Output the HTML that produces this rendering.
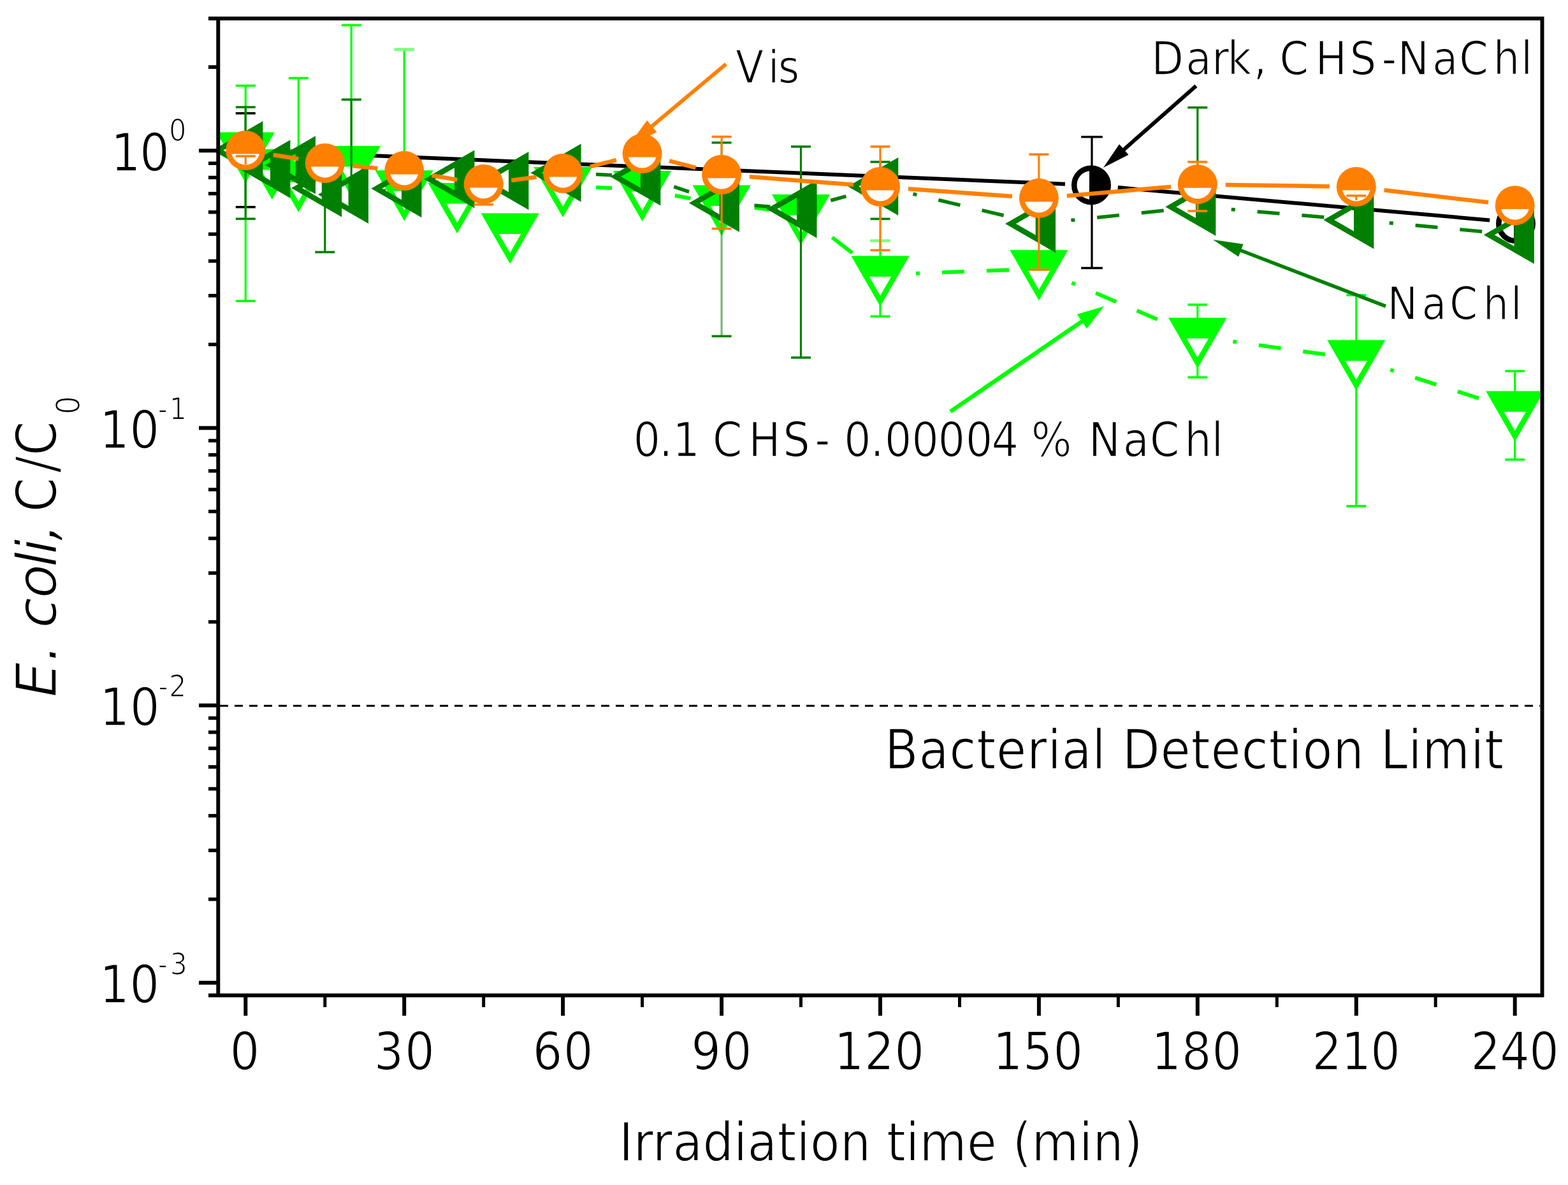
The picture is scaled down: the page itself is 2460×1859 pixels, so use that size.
<!DOCTYPE html>
<html><head><meta charset="utf-8"><title>E. coli inactivation</title>
<style>html,body{margin:0;padding:0;background:#fff;overflow:hidden;}svg{display:block;}</style>
</head><body>
<svg width="2460" height="1859" viewBox="0 0 2460 1859">
<rect width="2460" height="1859" fill="#fff"/>
<line x1="345" y1="1107.3" x2="2416" y2="1107.3" stroke="#000" stroke-width="3" stroke-dasharray="13 10"/>
<defs><clipPath id="pc"><rect x="345" y="32" width="2071" height="1526"/></clipPath></defs>
<g clip-path="url(#pc)">
<g stroke="#000000" opacity="1"><line x1="385.3" y1="177.7" x2="385.3" y2="324.8" stroke-width="3.2"/><line x1="369.8" y1="177.7" x2="400.8" y2="177.7" stroke-width="3.6"/><line x1="369.8" y1="324.8" x2="400.8" y2="324.8" stroke-width="3.6"/></g>
<g stroke="#000000" opacity="1"><line x1="1713.0" y1="214.7" x2="1713.0" y2="420.5" stroke-width="3.2"/><line x1="1696.2" y1="214.7" x2="1729.8" y2="214.7" stroke-width="3.6"/><line x1="1696.2" y1="420.5" x2="1729.8" y2="420.5" stroke-width="3.6"/></g>
<line x1="427.3" y1="237.7" x2="1671.0" y2="288.7" stroke="#000" stroke-width="6"/>
<line x1="1753.8" y1="294.1" x2="2337.2" y2="345.4" stroke="#000" stroke-width="6"/>
<circle cx="1712.0" cy="290.4" r="26.75" fill="#fff" stroke="#000000" stroke-width="8.5"/><path d="M1709.0,268.1A23.0,23.0 0 1 1 1709.0,312.7Z" fill="#000000"/>
<circle cx="2378.0" cy="351.0" r="26.75" fill="#fff" stroke="#000000" stroke-width="8.5"/><path d="M2375.0,328.7A23.0,23.0 0 1 1 2375.0,373.3Z" fill="#000000"/>
<g stroke="#00ff00" opacity="1"><line x1="385.3" y1="134.4" x2="385.3" y2="472.2" stroke-width="3.2"/><line x1="369.8" y1="134.4" x2="400.8" y2="134.4" stroke-width="3.6"/><line x1="369.8" y1="472.2" x2="400.8" y2="472.2" stroke-width="3.6"/></g>
<g stroke="#00ff00" opacity="1"><line x1="468.3" y1="122.5" x2="468.3" y2="300.0" stroke-width="3.2"/><line x1="452.8" y1="122.5" x2="483.8" y2="122.5" stroke-width="3.6"/></g>
<g stroke="#00ff00" opacity="1"><line x1="551.2" y1="39.5" x2="551.2" y2="300.0" stroke-width="3.2"/><line x1="535.8" y1="39.5" x2="566.8" y2="39.5" stroke-width="3.6"/></g>
<g stroke="#00ff00" opacity="1"><line x1="634.2" y1="77.7" x2="634.2" y2="290.0" stroke-width="3.2"/><line x1="618.7" y1="77.7" x2="649.7" y2="77.7" stroke-width="3.6"/></g>
<g stroke="#80ff80" opacity="1"><line x1="634.2" y1="77.7" x2="634.2" y2="77.7" stroke-width="3.2"/><line x1="618.7" y1="77.7" x2="649.7" y2="77.7" stroke-width="5"/></g>
<g stroke="#00ff00" opacity="1"><line x1="1381.0" y1="377.6" x2="1381.0" y2="496.3" stroke-width="3.2"/><line x1="1365.5" y1="377.6" x2="1396.5" y2="377.6" stroke-width="3.6"/><line x1="1365.5" y1="496.3" x2="1396.5" y2="496.3" stroke-width="3.6"/></g>
<g stroke="#80ff80" opacity="1"><line x1="1381.0" y1="377.6" x2="1381.0" y2="377.6" stroke-width="3.2"/><line x1="1365.5" y1="377.6" x2="1396.5" y2="377.6" stroke-width="4"/></g>
<g stroke="#00ff00" opacity="1"><line x1="1878.8" y1="478.0" x2="1878.8" y2="592.0" stroke-width="3.2"/><line x1="1863.3" y1="478.0" x2="1894.3" y2="478.0" stroke-width="3.6"/><line x1="1863.3" y1="592.0" x2="1894.3" y2="592.0" stroke-width="3.6"/></g>
<g stroke="#00ff00" opacity="1"><line x1="2127.8" y1="463.0" x2="2127.8" y2="794.0" stroke-width="3.2"/><line x1="2112.3" y1="463.0" x2="2143.3" y2="463.0" stroke-width="3.6"/><line x1="2112.3" y1="794.0" x2="2143.3" y2="794.0" stroke-width="3.6"/></g>
<g stroke="#00ff00" opacity="1"><line x1="2376.7" y1="582.2" x2="2376.7" y2="721.0" stroke-width="3.2"/><line x1="2361.2" y1="582.2" x2="2392.2" y2="582.2" stroke-width="3.6"/><line x1="2361.2" y1="721.0" x2="2392.2" y2="721.0" stroke-width="3.6"/></g>
<line x1="935.1" y1="293.9" x2="967.7" y2="295.5" stroke="#00ff00" stroke-width="6" stroke-dasharray="25 200"/>
<line x1="1058.8" y1="306.8" x2="1092.7" y2="312.9" stroke="#00ff00" stroke-width="6" stroke-dasharray="25 200"/>
<line x1="1183.7" y1="326.0" x2="1216.8" y2="329.8" stroke="#00ff00" stroke-width="6" stroke-dasharray="25 200"/>
<line x1="1305.5" y1="372.4" x2="1349.4" y2="406.5" stroke="#00ff00" stroke-width="6" stroke-dasharray="40 300"/>
<line x1="1437.0" y1="428.9" x2="1590.0" y2="423.2" stroke="#00ff00" stroke-width="6" stroke-dasharray="6 35 35 35 35 35 35 35"/>
<line x1="1681.4" y1="443.7" x2="1842.1" y2="512.3" stroke="#00ff00" stroke-width="6" stroke-dasharray="6 35 35 35 35 35 35 35"/>
<line x1="1934.3" y1="535.8" x2="2088.2" y2="557.4" stroke="#00ff00" stroke-width="6" stroke-dasharray="6 35 35 35 35 35 35 35"/>
<line x1="2181.1" y1="580.1" x2="2338.6" y2="630.8" stroke="#00ff00" stroke-width="6" stroke-dasharray="6 35 35 35 35 35 35 35"/>
<path d="M339.7,207.6L430.9,207.6L385.3,286.7Z" fill="#00ff00"/><path d="M368.1,240.0L402.5,240.0L385.3,269.7Z" fill="#fff"/>
<path d="M381.2,234.0L472.4,234.0L426.8,313.1Z" fill="#00ff00"/><path d="M409.6,266.4L444.0,266.4L426.8,296.1Z" fill="#fff"/>
<path d="M422.7,253.6L513.9,253.6L468.3,332.7Z" fill="#00ff00"/><path d="M451.1,286.0L485.4,286.0L468.3,315.7Z" fill="#fff"/>
<path d="M505.6,229.1L596.9,229.1L551.2,308.2Z" fill="#00ff00"/><path d="M534.1,261.5L568.4,261.5L551.2,291.2Z" fill="#fff"/>
<path d="M588.6,267.3L679.8,267.3L634.2,346.4Z" fill="#00ff00"/><path d="M617.1,299.7L651.4,299.7L634.2,329.4Z" fill="#fff"/>
<path d="M671.6,287.1L762.8,287.1L717.2,366.2Z" fill="#00ff00"/><path d="M700.0,319.5L734.4,319.5L717.2,349.2Z" fill="#fff"/>
<path d="M754.6,334.6L845.8,334.6L800.2,413.7Z" fill="#00ff00"/><path d="M783.0,367.0L817.3,367.0L800.2,396.7Z" fill="#fff"/>
<path d="M837.5,261.9L928.8,261.9L883.1,341.0Z" fill="#00ff00"/><path d="M866.0,294.3L900.3,294.3L883.1,324.0Z" fill="#fff"/>
<path d="M962.0,268.1L1053.2,268.1L1007.6,347.2Z" fill="#00ff00"/><path d="M990.4,300.5L1024.8,300.5L1007.6,330.2Z" fill="#fff"/>
<path d="M1086.5,290.6L1177.7,290.6L1132.1,369.7Z" fill="#00ff00"/><path d="M1114.9,323.0L1149.2,323.0L1132.1,352.7Z" fill="#fff"/>
<path d="M1210.9,305.0L1302.1,305.0L1256.5,384.1Z" fill="#00ff00"/><path d="M1239.4,337.4L1273.7,337.4L1256.5,367.1Z" fill="#fff"/>
<path d="M1335.4,401.6L1426.6,401.6L1381.0,480.7Z" fill="#00ff00"/><path d="M1363.8,434.0L1398.2,434.0L1381.0,463.7Z" fill="#fff"/>
<path d="M1584.3,392.3L1675.5,392.3L1629.9,471.4Z" fill="#00ff00"/><path d="M1612.8,424.7L1647.1,424.7L1629.9,454.4Z" fill="#fff"/>
<path d="M1833.2,498.6L1924.4,498.6L1878.8,577.7Z" fill="#00ff00"/><path d="M1861.7,531.0L1896.0,531.0L1878.8,560.7Z" fill="#fff"/>
<path d="M2082.2,533.6L2173.4,533.6L2127.8,612.7Z" fill="#00ff00"/><path d="M2110.6,566.0L2144.9,566.0L2127.8,595.7Z" fill="#fff"/>
<path d="M2331.1,613.6L2422.3,613.6L2376.7,692.7Z" fill="#00ff00"/><path d="M2359.5,646.0L2393.9,646.0L2376.7,675.7Z" fill="#fff"/>
<g stroke="#008000" opacity="1"><line x1="385.3" y1="168.1" x2="385.3" y2="343.3" stroke-width="3.2"/><line x1="369.8" y1="168.1" x2="400.8" y2="168.1" stroke-width="3.6"/><line x1="369.8" y1="343.3" x2="400.8" y2="343.3" stroke-width="3.6"/></g>
<g stroke="#008000" opacity="1"><line x1="509.8" y1="300.0" x2="509.8" y2="395.5" stroke-width="3.2"/><line x1="494.3" y1="395.5" x2="525.3" y2="395.5" stroke-width="3.6"/></g>
<g stroke="#008000" opacity="1"><line x1="551.2" y1="156.2" x2="551.2" y2="300.0" stroke-width="3.2"/><line x1="535.8" y1="156.2" x2="566.8" y2="156.2" stroke-width="3.6"/></g>
<g stroke="#008000" opacity="0.55"><line x1="1132.1" y1="223.8" x2="1132.1" y2="527.4" stroke-width="3.2"/></g>
<g stroke="#008000" opacity="1"><line x1="1132.1" y1="223.8" x2="1132.1" y2="527.4" stroke-width="0"/><line x1="1116.6" y1="223.8" x2="1147.6" y2="223.8" stroke-width="3.6"/><line x1="1116.6" y1="527.4" x2="1147.6" y2="527.4" stroke-width="3.6"/></g>
<g stroke="#008000" opacity="1"><line x1="1256.5" y1="230.0" x2="1256.5" y2="561.0" stroke-width="3.2"/><line x1="1241.0" y1="230.0" x2="1272.0" y2="230.0" stroke-width="3.6"/><line x1="1241.0" y1="561.0" x2="1272.0" y2="561.0" stroke-width="3.6"/></g>
<g stroke="#008000" opacity="1"><line x1="1381.0" y1="254.0" x2="1381.0" y2="343.4" stroke-width="3.2"/><line x1="1365.5" y1="254.0" x2="1396.5" y2="254.0" stroke-width="3.6"/><line x1="1365.5" y1="343.4" x2="1396.5" y2="343.4" stroke-width="3.6"/></g>
<g stroke="#008000" opacity="1"><line x1="1878.8" y1="168.7" x2="1878.8" y2="300.0" stroke-width="3.2"/><line x1="1863.3" y1="168.7" x2="1894.3" y2="168.7" stroke-width="3.6"/></g>
<line x1="601.3" y1="299.5" x2="605.2" y2="299.1" stroke="#008000" stroke-width="5.5" stroke-dasharray="25 200"/>
<line x1="684.2" y1="287.0" x2="688.5" y2="286.2" stroke="#008000" stroke-width="5.5" stroke-dasharray="25 200"/>
<line x1="768.0" y1="282.5" x2="773.0" y2="282.7" stroke="#008000" stroke-width="5.5" stroke-dasharray="25 200"/>
<line x1="852.4" y1="276.1" x2="855.5" y2="275.7" stroke="#008000" stroke-width="5.5" stroke-dasharray="25 200"/>
<line x1="935.1" y1="273.5" x2="979.9" y2="275.6" stroke="#008000" stroke-width="5.5" stroke-dasharray="25 200"/>
<line x1="1057.3" y1="292.9" x2="1105.2" y2="309.0" stroke="#008000" stroke-width="5.5" stroke-dasharray="25 200"/>
<line x1="1183.5" y1="322.3" x2="1225.2" y2="325.5" stroke="#008000" stroke-width="5.5" stroke-dasharray="25 200"/>
<line x1="1303.3" y1="314.5" x2="1354.0" y2="300.5" stroke="#008000" stroke-width="5.5" stroke-dasharray="25 200"/>
<line x1="1432.5" y1="304.3" x2="1600.5" y2="344.1" stroke="#008000" stroke-width="5.5" stroke-dasharray="6 35 35 35 35 35 35 35"/>
<line x1="1680.4" y1="345.6" x2="1851.2" y2="327.6" stroke="#008000" stroke-width="5.5" stroke-dasharray="6 35 35 35 35 35 35 35"/>
<line x1="1931.8" y1="328.6" x2="2099.1" y2="342.5" stroke="#008000" stroke-width="5.5" stroke-dasharray="6 35 35 35 35 35 35 35"/>
<line x1="2179.8" y1="349.7" x2="2350.6" y2="365.7" stroke="#008000" stroke-width="5.5" stroke-dasharray="6 35 35 35 35 35 35 35"/>
<path fill-rule="evenodd" d="M333.3,235.7L412.4,190.1L412.4,281.3ZM350.3,235.7L403.9,266.6L403.9,204.8Z" fill="#008000"/><path d="M381.0,216.7L405.0,203.0L405.0,268.4L381.0,254.7Z" fill="#008000"/>
<path fill-rule="evenodd" d="M376.3,265.2L455.4,219.6L455.4,310.8ZM393.3,265.2L446.9,296.1L446.9,234.3Z" fill="#008000"/><path d="M424.0,246.2L448.0,232.5L448.0,297.9L424.0,284.2Z" fill="#008000"/>
<path fill-rule="evenodd" d="M415.9,258.9L495.0,213.3L495.0,304.5ZM432.9,258.9L486.5,289.8L486.5,228.0Z" fill="#008000"/><path d="M463.6,239.9L487.6,226.2L487.6,291.6L463.6,277.9Z" fill="#008000"/>
<path fill-rule="evenodd" d="M457.1,295.0L536.2,249.4L536.2,340.6ZM474.1,295.0L527.7,325.9L527.7,264.1Z" fill="#008000"/><path d="M504.8,276.0L528.8,262.3L528.8,327.7L504.8,314.0Z" fill="#008000"/>
<path fill-rule="evenodd" d="M498.9,305.2L578.0,259.6L578.0,350.8ZM515.9,305.2L569.5,336.1L569.5,274.3Z" fill="#008000"/><path d="M546.6,286.2L570.6,272.5L570.6,337.9L546.6,324.2Z" fill="#008000"/>
<path fill-rule="evenodd" d="M582.3,295.7L661.4,250.1L661.4,341.3ZM599.3,295.7L652.9,326.6L652.9,264.8Z" fill="#008000"/><path d="M630.0,276.7L654.0,263.0L654.0,328.4L630.0,314.7Z" fill="#008000"/>
<path fill-rule="evenodd" d="M665.3,281.0L744.4,235.4L744.4,326.6ZM682.3,281.0L735.9,311.9L735.9,250.1Z" fill="#008000"/><path d="M713.0,262.0L737.0,248.3L737.0,313.7L713.0,300.0Z" fill="#008000"/>
<path fill-rule="evenodd" d="M750.3,283.6L829.4,238.0L829.4,329.2ZM767.3,283.6L820.9,314.5L820.9,252.7Z" fill="#008000"/><path d="M798.0,264.6L822.0,250.9L822.0,316.3L798.0,302.6Z" fill="#008000"/>
<path fill-rule="evenodd" d="M832.5,271.2L911.6,225.6L911.6,316.8ZM849.5,271.2L903.1,302.1L903.1,240.3Z" fill="#008000"/><path d="M880.2,252.2L904.2,238.5L904.2,303.9L880.2,290.2Z" fill="#008000"/>
<path fill-rule="evenodd" d="M957.2,277.0L1036.3,231.4L1036.3,322.6ZM974.2,277.0L1027.8,307.9L1027.8,246.1Z" fill="#008000"/><path d="M1004.9,258.0L1028.9,244.3L1028.9,309.7L1004.9,296.0Z" fill="#008000"/>
<path fill-rule="evenodd" d="M1080.9,318.5L1160.0,272.9L1160.0,364.1ZM1097.9,318.5L1151.5,349.4L1151.5,287.6Z" fill="#008000"/><path d="M1128.6,299.5L1152.6,285.8L1152.6,351.2L1128.6,337.5Z" fill="#008000"/>
<path fill-rule="evenodd" d="M1202.4,327.8L1281.5,282.2L1281.5,373.4ZM1219.4,327.8L1273.0,358.7L1273.0,296.9Z" fill="#008000"/><path d="M1250.1,308.8L1274.1,295.1L1274.1,360.5L1250.1,346.8Z" fill="#008000"/>
<path fill-rule="evenodd" d="M1330.2,292.5L1409.3,246.9L1409.3,338.1ZM1347.2,292.5L1400.8,323.4L1400.8,261.6Z" fill="#008000"/><path d="M1377.9,273.5L1401.9,259.8L1401.9,325.2L1377.9,311.5Z" fill="#008000"/>
<path fill-rule="evenodd" d="M1577.0,351.0L1656.1,305.4L1656.1,396.6ZM1594.0,351.0L1647.6,381.9L1647.6,320.1Z" fill="#008000"/><path d="M1624.7,332.0L1648.7,318.3L1648.7,383.7L1624.7,370.0Z" fill="#008000"/>
<path fill-rule="evenodd" d="M1828.3,324.4L1907.4,278.8L1907.4,370.0ZM1845.3,324.4L1898.9,355.3L1898.9,293.5Z" fill="#008000"/><path d="M1876.0,305.4L1900.0,291.7L1900.0,357.1L1876.0,343.4Z" fill="#008000"/>
<path fill-rule="evenodd" d="M2076.3,345.0L2155.4,299.4L2155.4,390.6ZM2093.3,345.0L2146.9,375.9L2146.9,314.1Z" fill="#008000"/><path d="M2124.0,326.0L2148.0,312.3L2148.0,377.7L2124.0,364.0Z" fill="#008000"/>
<path fill-rule="evenodd" d="M2327.8,368.5L2406.9,322.9L2406.9,414.1ZM2344.8,368.5L2398.4,399.4L2398.4,337.6Z" fill="#008000"/><path d="M2375.5,349.5L2399.5,335.8L2399.5,401.2L2375.5,387.5Z" fill="#008000"/>
<g stroke="#ff8000" opacity="1"><line x1="385.3" y1="245.0" x2="385.3" y2="258.0" stroke-width="3.2"/><line x1="369.8" y1="245.0" x2="400.8" y2="245.0" stroke-width="3.6"/></g>
<g stroke="#ff8000" opacity="1"><line x1="758.7" y1="290.0" x2="758.7" y2="320.9" stroke-width="3.2"/><line x1="743.2" y1="320.9" x2="774.2" y2="320.9" stroke-width="3.6"/></g>
<g stroke="#ff8000" opacity="1"><line x1="1132.1" y1="214.5" x2="1132.1" y2="358.8" stroke-width="3.2"/><line x1="1116.6" y1="214.5" x2="1147.6" y2="214.5" stroke-width="3.6"/><line x1="1116.6" y1="358.8" x2="1147.6" y2="358.8" stroke-width="3.6"/></g>
<g stroke="#ff8000" opacity="1"><line x1="1381.0" y1="230.0" x2="1381.0" y2="392.5" stroke-width="3.2"/><line x1="1365.5" y1="230.0" x2="1396.5" y2="230.0" stroke-width="3.6"/><line x1="1365.5" y1="392.5" x2="1396.5" y2="392.5" stroke-width="3.6"/></g>
<g stroke="#ff8000" opacity="1"><line x1="1629.9" y1="242.2" x2="1629.9" y2="423.0" stroke-width="3.2"/><line x1="1614.4" y1="242.2" x2="1645.4" y2="242.2" stroke-width="3.6"/><line x1="1614.4" y1="423.0" x2="1645.4" y2="423.0" stroke-width="3.6"/></g>
<g stroke="#ff8000" opacity="1"><line x1="1878.8" y1="254.0" x2="1878.8" y2="331.0" stroke-width="3.2"/><line x1="1863.3" y1="254.0" x2="1894.3" y2="254.0" stroke-width="3.6"/><line x1="1863.3" y1="331.0" x2="1894.3" y2="331.0" stroke-width="3.6"/></g>
<g stroke="#ff8000" opacity="1"><line x1="2127.8" y1="307.0" x2="2127.8" y2="318.0" stroke-width="3.2"/><line x1="2112.3" y1="307.0" x2="2143.3" y2="307.0" stroke-width="3.6"/></g>
<line x1="428.7" y1="243.0" x2="468.3" y2="249.3" stroke="#ff8000" stroke-width="6.5"/>
<line x1="553.6" y1="260.2" x2="592.4" y2="264.0" stroke="#ff8000" stroke-width="6.5"/>
<line x1="677.6" y1="275.3" x2="717.3" y2="282.0" stroke="#ff8000" stroke-width="6.5"/>
<line x1="802.3" y1="283.0" x2="841.5" y2="277.7" stroke="#ff8000" stroke-width="6.5"/>
<line x1="925.8" y1="261.4" x2="966.9" y2="251.2" stroke="#ff8000" stroke-width="6.5"/>
<line x1="1050.1" y1="252.3" x2="1091.5" y2="263.2" stroke="#ff8000" stroke-width="6.5"/>
<line x1="1175.9" y1="277.3" x2="1339.1" y2="289.8" stroke="#ff8000" stroke-width="6.5"/>
<line x1="1424.9" y1="296.2" x2="1588.0" y2="308.0" stroke="#ff8000" stroke-width="6.5"/>
<line x1="1673.8" y1="307.2" x2="1837.0" y2="292.9" stroke="#ff8000" stroke-width="6.5"/>
<line x1="1922.8" y1="289.9" x2="2085.8" y2="292.4" stroke="#ff8000" stroke-width="6.5"/>
<line x1="2171.5" y1="298.2" x2="2335.0" y2="317.5" stroke="#ff8000" stroke-width="6.5"/>
<circle cx="385.3" cy="236.0" r="31" fill="#ff8000"/><path d="M363.5,241.5L407.1,241.5A22.5,22.5 0 0 1 363.5,241.5Z" fill="#fff"/>
<circle cx="509.8" cy="256.0" r="31" fill="#ff8000"/><path d="M487.9,261.5L531.6,261.5A22.5,22.5 0 0 1 487.9,261.5Z" fill="#fff"/>
<circle cx="634.2" cy="268.0" r="31" fill="#ff8000"/><path d="M612.4,273.5L656.0,273.5A22.5,22.5 0 0 1 612.4,273.5Z" fill="#fff"/>
<circle cx="758.7" cy="289.0" r="31" fill="#ff8000"/><path d="M736.9,294.5L780.5,294.5A22.5,22.5 0 0 1 736.9,294.5Z" fill="#fff"/>
<circle cx="883.1" cy="272.0" r="31" fill="#ff8000"/><path d="M861.3,277.5L905.0,277.5A22.5,22.5 0 0 1 861.3,277.5Z" fill="#fff"/>
<circle cx="1007.6" cy="241.0" r="31" fill="#ff8000"/><path d="M985.8,246.5L1029.4,246.5A22.5,22.5 0 0 1 985.8,246.5Z" fill="#fff"/>
<circle cx="1132.1" cy="274.0" r="31" fill="#ff8000"/><path d="M1110.3,279.5L1153.9,279.5A22.5,22.5 0 0 1 1110.3,279.5Z" fill="#fff"/>
<circle cx="1381.0" cy="293.0" r="31" fill="#ff8000"/><path d="M1359.2,298.5L1402.8,298.5A22.5,22.5 0 0 1 1359.2,298.5Z" fill="#fff"/>
<circle cx="1629.9" cy="311.0" r="31" fill="#ff8000"/><path d="M1608.1,316.5L1651.7,316.5A22.5,22.5 0 0 1 1608.1,316.5Z" fill="#fff"/>
<circle cx="1878.8" cy="289.2" r="31" fill="#ff8000"/><path d="M1857.0,294.7L1900.7,294.7A22.5,22.5 0 0 1 1857.0,294.7Z" fill="#fff"/>
<circle cx="2127.8" cy="293.0" r="31" fill="#ff8000"/><path d="M2106.0,298.5L2149.6,298.5A22.5,22.5 0 0 1 2106.0,298.5Z" fill="#fff"/>
<circle cx="2376.7" cy="322.4" r="31" fill="#ff8000"/><path d="M2354.9,327.9L2398.5,327.9A22.5,22.5 0 0 1 2354.9,327.9Z" fill="#fff"/>
<g stroke="#ff8000" opacity="1"><line x1="385.3" y1="245.0" x2="385.3" y2="258.0" stroke-width="3.2"/><line x1="369.8" y1="245.0" x2="400.8" y2="245.0" stroke-width="3.6"/></g>
<g stroke="#ff8000" opacity="1"><line x1="2127.8" y1="307.0" x2="2127.8" y2="314.0" stroke-width="3.2"/><line x1="2112.3" y1="307.0" x2="2143.3" y2="307.0" stroke-width="3.6"/></g>
</g>
<line x1="1139.0" y1="100.5" x2="1021.2" y2="199.2" stroke="#ff8000" stroke-width="6"/><path d="M986.0,228.8L1015.1,188.8L1030.5,207.2Z" fill="#ff8000"/>
<line x1="1876.5" y1="134.8" x2="1761.8" y2="235.9" stroke="#000000" stroke-width="6"/><path d="M1731.0,263.0L1756.0,226.3L1770.5,242.8Z" fill="#000000"/>
<line x1="2174.0" y1="480.4" x2="1945.0" y2="392.2" stroke="#008000" stroke-width="5.5"/><path d="M1903.0,376.0L1950.6,383.1L1943.1,402.7Z" fill="#008000"/>
<line x1="1491.0" y1="645.6" x2="1699.0" y2="503.1" stroke="#00ff00" stroke-width="6.5"/><path d="M1732.0,480.5L1705.0,515.4L1689.7,493.1Z" fill="#00ff00"/>
<g stroke="#000" stroke-width="6" fill="none">
<line x1="327" y1="29" x2="2422" y2="29"/>
<line x1="327" y1="1561.5" x2="2422" y2="1561.5"/>
<line x1="342.3" y1="26" x2="342.3" y2="1564"/>
<line x1="2419.5" y1="26" x2="2419.5" y2="1564"/>
<line x1="312" y1="1541.7" x2="342" y2="1541.7"/>
<line x1="327" y1="1410.7" x2="342" y2="1410.7" stroke-width="5.5"/>
<line x1="327" y1="1334.1" x2="342" y2="1334.1" stroke-width="5.5"/>
<line x1="327" y1="1279.7" x2="342" y2="1279.7" stroke-width="5.5"/>
<line x1="327" y1="1237.5" x2="342" y2="1237.5" stroke-width="5.5"/>
<line x1="327" y1="1203.1" x2="342" y2="1203.1" stroke-width="5.5"/>
<line x1="327" y1="1174.0" x2="342" y2="1174.0" stroke-width="5.5"/>
<line x1="327" y1="1148.7" x2="342" y2="1148.7" stroke-width="5.5"/>
<line x1="327" y1="1126.5" x2="342" y2="1126.5" stroke-width="5.5"/>
<line x1="312" y1="1106.6" x2="342" y2="1106.6"/>
<line x1="327" y1="975.6" x2="342" y2="975.6" stroke-width="5.5"/>
<line x1="327" y1="899.0" x2="342" y2="899.0" stroke-width="5.5"/>
<line x1="327" y1="844.6" x2="342" y2="844.6" stroke-width="5.5"/>
<line x1="327" y1="802.4" x2="342" y2="802.4" stroke-width="5.5"/>
<line x1="327" y1="768.0" x2="342" y2="768.0" stroke-width="5.5"/>
<line x1="327" y1="738.8" x2="342" y2="738.8" stroke-width="5.5"/>
<line x1="327" y1="713.6" x2="342" y2="713.6" stroke-width="5.5"/>
<line x1="327" y1="691.3" x2="342" y2="691.3" stroke-width="5.5"/>
<line x1="312" y1="671.4" x2="342" y2="671.4"/>
<line x1="327" y1="540.4" x2="342" y2="540.4" stroke-width="5.5"/>
<line x1="327" y1="463.8" x2="342" y2="463.8" stroke-width="5.5"/>
<line x1="327" y1="409.5" x2="342" y2="409.5" stroke-width="5.5"/>
<line x1="327" y1="367.3" x2="342" y2="367.3" stroke-width="5.5"/>
<line x1="327" y1="332.8" x2="342" y2="332.8" stroke-width="5.5"/>
<line x1="327" y1="303.7" x2="342" y2="303.7" stroke-width="5.5"/>
<line x1="327" y1="278.5" x2="342" y2="278.5" stroke-width="5.5"/>
<line x1="327" y1="256.2" x2="342" y2="256.2" stroke-width="5.5"/>
<line x1="312" y1="236.3" x2="342" y2="236.3"/>
<line x1="327" y1="105.3" x2="342" y2="105.3" stroke-width="5.5"/>
<line x1="327" y1="105.3" x2="342" y2="105.3" stroke-width="5.5"/>
<line x1="385.3" y1="1561" x2="385.3" y2="1593.5"/>
<line x1="634.2" y1="1561" x2="634.2" y2="1593.5"/>
<line x1="883.1" y1="1561" x2="883.1" y2="1593.5"/>
<line x1="1132.1" y1="1561" x2="1132.1" y2="1593.5"/>
<line x1="1381.0" y1="1561" x2="1381.0" y2="1593.5"/>
<line x1="1629.9" y1="1561" x2="1629.9" y2="1593.5"/>
<line x1="1878.8" y1="1561" x2="1878.8" y2="1593.5"/>
<line x1="2127.8" y1="1561" x2="2127.8" y2="1593.5"/>
<line x1="2376.7" y1="1561" x2="2376.7" y2="1593.5"/>
<line x1="509.8" y1="1561" x2="509.8" y2="1580" stroke-width="5"/>
<line x1="758.7" y1="1561" x2="758.7" y2="1580" stroke-width="5"/>
<line x1="1007.6" y1="1561" x2="1007.6" y2="1580" stroke-width="5"/>
<line x1="1256.5" y1="1561" x2="1256.5" y2="1580" stroke-width="5"/>
<line x1="1505.5" y1="1561" x2="1505.5" y2="1580" stroke-width="5"/>
<line x1="1754.4" y1="1561" x2="1754.4" y2="1580" stroke-width="5"/>
<line x1="2003.3" y1="1561" x2="2003.3" y2="1580" stroke-width="5"/>
<line x1="2252.2" y1="1561" x2="2252.2" y2="1580" stroke-width="5"/>
</g>
<text x="360.4" y="1678.3" font-size="82" font-family="DejaVu Sans Condensed, DejaVu Sans, Liberation Sans, sans-serif" font-stretch="condensed" stroke="#fff" stroke-width="1.6">0</text>
<text x="586.48" y="1678.3" font-size="82" font-family="DejaVu Sans Condensed, DejaVu Sans, Liberation Sans, sans-serif" font-stretch="condensed" stroke="#fff" stroke-width="1.6" letter-spacing="1.5">30</text>
<text x="835.4" y="1678.3" font-size="82" font-family="DejaVu Sans Condensed, DejaVu Sans, Liberation Sans, sans-serif" font-stretch="condensed" stroke="#fff" stroke-width="1.6" letter-spacing="1.5">60</text>
<text x="1084.33" y="1678.3" font-size="82" font-family="DejaVu Sans Condensed, DejaVu Sans, Liberation Sans, sans-serif" font-stretch="condensed" stroke="#fff" stroke-width="1.6" letter-spacing="1.5">90</text>
<text x="1308.5" y="1678.3" font-size="82" font-family="DejaVu Sans Condensed, DejaVu Sans, Liberation Sans, sans-serif" font-stretch="condensed" stroke="#fff" stroke-width="1.6" letter-spacing="0.5">120</text>
<text x="1557.42" y="1678.3" font-size="82" font-family="DejaVu Sans Condensed, DejaVu Sans, Liberation Sans, sans-serif" font-stretch="condensed" stroke="#fff" stroke-width="1.6" letter-spacing="0.5">150</text>
<text x="1806.35" y="1678.3" font-size="82" font-family="DejaVu Sans Condensed, DejaVu Sans, Liberation Sans, sans-serif" font-stretch="condensed" stroke="#fff" stroke-width="1.6" letter-spacing="0.5">180</text>
<text x="2058.28" y="1678.3" font-size="82" font-family="DejaVu Sans Condensed, DejaVu Sans, Liberation Sans, sans-serif" font-stretch="condensed" stroke="#fff" stroke-width="1.6" letter-spacing="-1.0">210</text>
<text x="2307.2" y="1678.3" font-size="82" font-family="DejaVu Sans Condensed, DejaVu Sans, Liberation Sans, sans-serif" font-stretch="condensed" stroke="#fff" stroke-width="1.6" letter-spacing="-1.0">240</text>
<text x="173.7" y="267.6" font-size="82" font-family="DejaVu Sans Condensed, DejaVu Sans, Liberation Sans, sans-serif" font-stretch="condensed" stroke="#fff" stroke-width="1.6" letter-spacing="-1.7">10</text>
<text x="264.9" y="221.4" font-size="48" font-family="DejaVu Sans Condensed, DejaVu Sans, Liberation Sans, sans-serif" font-stretch="condensed" stroke="#fff" stroke-width="1.6">0</text>
<text x="156.1" y="702.7" font-size="82" font-family="DejaVu Sans Condensed, DejaVu Sans, Liberation Sans, sans-serif" font-stretch="condensed" stroke="#fff" stroke-width="1.6" letter-spacing="0.3">10</text>
<text x="247.5" y="657.6" font-size="48" font-family="DejaVu Sans Condensed, DejaVu Sans, Liberation Sans, sans-serif" font-stretch="condensed" stroke="#fff" stroke-width="1.6" letter-spacing="2.3">-1</text>
<text x="156.3" y="1137.9" font-size="82" font-family="DejaVu Sans Condensed, DejaVu Sans, Liberation Sans, sans-serif" font-stretch="condensed" stroke="#fff" stroke-width="1.6" letter-spacing="0.6">10</text>
<text x="248.2" y="1093.3" font-size="48" font-family="DejaVu Sans Condensed, DejaVu Sans, Liberation Sans, sans-serif" font-stretch="condensed" stroke="#fff" stroke-width="1.6" letter-spacing="1.2">-2</text>
<text x="156.1" y="1573.0" font-size="82" font-family="DejaVu Sans Condensed, DejaVu Sans, Liberation Sans, sans-serif" font-stretch="condensed" stroke="#fff" stroke-width="1.6" letter-spacing="0.3">10</text>
<text x="247.5" y="1528.8" font-size="48" font-family="DejaVu Sans Condensed, DejaVu Sans, Liberation Sans, sans-serif" font-stretch="condensed" stroke="#fff" stroke-width="1.6" letter-spacing="3.4">-3</text>
<text x="1806.3 1860.2 1900.9 1925.4 1966.4 1986.85 2007.3 2063.5 2117.4 2167.5 2192.5 2247.0 2289.0 2342.5 2385.9" y="116.7" font-size="73.4" font-family="DejaVu Sans Condensed, DejaVu Sans, Liberation Sans, sans-serif" font-stretch="condensed" stroke="#fff" stroke-width="1.6">Dark, CHS-NaChl</text>
<text x="1154.0 1204.7 1220.7" y="130.2" font-size="71.6" font-family="DejaVu Sans Condensed, DejaVu Sans, Liberation Sans, sans-serif" font-stretch="condensed" stroke="#fff" stroke-width="1.6">Vis</text>
<text x="2176.5 2230.5 2274.1 2326.8 2369.9" y="500.7" font-size="70.6" font-family="DejaVu Sans Condensed, DejaVu Sans, Liberation Sans, sans-serif" font-stretch="condensed" stroke="#fff" stroke-width="1.6">NaChl</text>
<text x="993.5 1034.0 1055.3 1086.55 1117.8 1174.2 1228.3 1278.2 1301.05 1323.9 1365.6 1387.7 1430.3 1471.5 1514.7 1555.6 1586.65 1617.7 1662.7 1707.7 1761.7 1803.8 1858.3 1900.4" y="715.5" font-size="74.5" font-family="DejaVu Sans Condensed, DejaVu Sans, Liberation Sans, sans-serif" font-stretch="condensed" stroke="#fff" stroke-width="1.6">0.1 CHS- 0.00004 % NaChl</text>
<text x="1388.0" y="1206.2" font-size="85.3" font-family="DejaVu Sans Condensed, DejaVu Sans, Liberation Sans, sans-serif" font-stretch="condensed" stroke="#fff" stroke-width="1.6" letter-spacing="0.792">Bacterial Detection Limit</text>
<text x="971.0" y="1821.3" font-size="84.5" font-family="DejaVu Sans Condensed, DejaVu Sans, Liberation Sans, sans-serif" font-stretch="condensed" stroke="#fff" stroke-width="1.6" letter-spacing="0.352">Irradiation time (min)</text>
<g transform="translate(88,1090.3) rotate(-90)">
<text x="-3.8 52.4 78.75 105.1 151.9 200.6 220.8 241.3" y="0" font-size="87" font-family="DejaVu Sans, sans-serif" font-style="italic" stroke="#fff" stroke-width="1.6">E. coli,</text>
<text x="286.8 348.6 375.4" y="0" font-size="87" font-family="DejaVu Sans Condensed, DejaVu Sans, Liberation Sans, sans-serif" font-stretch="condensed" stroke="#fff" stroke-width="1.6">C/C</text>
<text x="440.0" y="36.5" font-size="51" font-family="DejaVu Sans Condensed, DejaVu Sans, Liberation Sans, sans-serif" font-stretch="condensed" stroke="#fff" stroke-width="1.6">0</text>
</g>
</svg>
</body></html>
